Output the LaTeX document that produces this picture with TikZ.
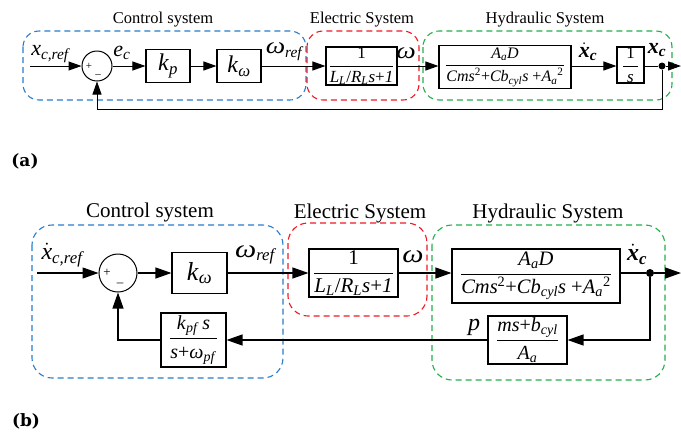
\documentclass[tikz,border=0pt]{standalone}
\usepackage{fontspec}
\usepackage{graphicx}
\setmainfont{Liberation Serif}
\newfontfamily\tagfont{DejaVu Serif}
\usetikzlibrary{arrows.meta,calc}
\definecolor{cblue}{RGB}{40,125,205}
\definecolor{cred}{RGB}{240,25,35}
\definecolor{cgreen}{RGB}{35,175,75}
\newcommand\ii[1]{\textit{#1}}
\newcommand\sub[1]{\textsubscript{\textit{#1}}}
\newcommand\xdot{$\dot{\mbox{\ii{x}}}$}
\newcommand\wide[1]{\scalebox{1.25}[1.05]{#1}}
\newcommand\fr[2]{$\displaystyle\frac{\mbox{#1}}{\mbox{#2}}$}
\newcommand\fs[1]{\fontsize{#1}{#1}\selectfont}
\tikzset{
  blk/.style={draw, line width=1.1pt, inner sep=0pt, fill=white},
  sumc/.style={draw, circle, line width=1pt, inner sep=0pt},
  arrA/.style={line width=1pt, -{Triangle[length=13pt,width=9pt]}},
  arrB/.style={line width=1.2pt, -{Triangle[length=16pt,width=11pt]}},
  ln/.style={line width=1pt},
  grp/.style={dash pattern=on 6pt off 4pt, line width=1.1pt, rounded corners=16pt},
  ttlA/.style={font=\fs{16.5}},
  ttlB/.style={font=\fs{21}},
  lbl/.style={font=\fs{22}\itshape},
  blbl/.style={font=\fs{22}\bfseries\itshape},
  dotn/.style={circle, fill, inner sep=0pt, minimum size=7pt},
  sgn/.style={font=\fs{11}, inner sep=0pt},
  tag/.style={font=\tagfont\fs{17}\bfseries}
}
\begin{document}
\begin{tikzpicture}[x=1pt,y=-1pt]
\useasboundingbox (0,0) rectangle (681,432);
% ===== panel (a) =====
\draw[grp, cblue] (23,31) rectangle (306,100);
\draw[grp, cred] (307,31) rectangle (419,100);
\draw[grp, cgreen] (423,31) rectangle (672,100);
\node[ttlA] (tA1) at (163,20) {Control system};
\node[ttlA] (tA2) at (362,20) {Electric System};
\node[ttlA] (tA3) at (545,20) {Hydraulic System};
\node[sumc, minimum size=30pt] (sA) at (97,66) {};
\node[sgn] (pA) at (89,66) {+};
\node[sgn] (mA) at (98,76) {\textendash};
\node[blk, minimum width=44pt, minimum height=33pt, font=\fs{24}] (kp) at (168,66) {\ii{k}\sub{p}};
\node[blk, minimum width=44pt, minimum height=33pt, font=\fs{24}] (kw) at (239,66) {\ii{k}\textsubscript{\ii{ω}}};
\node[blk, minimum width=71pt, minimum height=38pt, font=\fs{17}] (elA) at (361.5,66) {\fr{1}{\ii{L}\sub{L}/\ii{R}\sub{L}\ii{s}+\ii{1}}};
\node[blk, minimum width=132pt, minimum height=43pt, font=\fs{16}] (hyA) at (505,67) {\fr{\ii{A}\sub{a}\ii{D}}{\ii{Cms}\textsuperscript{2}+\ii{Cb}\sub{cyl}\ii{s} +\ii{A}\sub{a}\textsuperscript{2}}};
\node[blk, minimum width=27pt, minimum height=36pt, font=\fs{17}] (intA) at (630.5,65) {\fr{1}{\hspace{4pt}\ii{s}\hspace{4pt}}};
\node[dotn] (dA) at (662,66) {};
\coordinate (inA) at (30,66);
\coordinate (outA) at (681,66);
\coordinate (fbA) at (662,109);
\draw[arrA] (inA) -- (sA.west);
\draw[arrA] (sA.east) -- (kp.west);
\draw[arrA] (kp.east) -- (kw.west);
\draw[arrA] (kw.east) -- (elA.west);
\draw[arrA] (elA.east) -- (elA.east -| hyA.west);
\draw[arrA] (hyA.east |- dA) -- (hyA.east |- dA -| intA.west);
\draw[ln] (intA.east |- dA) -- (dA);
\draw[arrA] (dA) -- (outA);
\draw[arrA] (dA) -- (fbA) -| (sA.south);
\node[lbl] (lxr) at (50,54) {x\sub{c,ref}};
\node[lbl] (lec) at (122,53) {e\sub{c}};
\node[lbl] (lwr) at (284,52) {\wide{ω}\sub{ref}};
\node[lbl] (lwA) at (406,53) {\wide{ω}};
\node[blbl] (lxdA) at (588,52) {\xdot\textsubscript{\ii{c}}};
\node[blbl] (lxcA) at (657,50) {x\textsubscript{\ii{c}}};
\node[tag] (tagA) at (25,161) {(a)};
% ===== panel (b) =====
\draw[grp, cblue, rounded corners=20pt] (32,225) rectangle (283,378);
\draw[grp, cred, rounded corners=20pt] (288,223) rectangle (427,316);
\draw[grp, cgreen, rounded corners=20pt] (432,225) rectangle (665,380);
\node[ttlB] (tB1) at (150,212) {Control system};
\node[ttlB] (tB2) at (360,213) {Electric System};
\node[ttlB] (tB3) at (548,213) {Hydraulic System};
\node[sumc, minimum size=38pt] (sB) at (118,273) {};
\node[sgn, font=\fs{13}] (pB) at (107,273) {+};
\node[sgn, font=\fs{13}] (mB) at (120,285) {\textendash};
\node[blk, minimum width=55pt, minimum height=41pt, font=\fs{26}] (kwB) at (199.5,273) {\ii{k}\textsubscript{\ii{ω}}};
\node[blk, minimum width=89pt, minimum height=48pt, font=\fs{21}] (elB) at (353.5,273) {\fr{1}{\ii{L}\sub{L}/\ii{R}\sub{L}\ii{s}+\ii{1}}};
\node[blk, minimum width=168pt, minimum height=54pt, font=\fs{20.5}] (hyB) at (536,276) {\fr{\ii{A}\sub{a}\ii{D}}{\ii{Cms}\textsuperscript{2}+\ii{Cb}\sub{cyl}\ii{s} +\ii{A}\sub{a}\textsuperscript{2}}};
\node[blk, minimum width=65pt, minimum height=54pt, font=\fs{20}] (kpf) at (193.5,340) {\fr{\ii{k}\sub{pf}\,\ii{s}}{\ii{s}+\ii{ω}\sub{pf}}};
\node[blk, minimum width=79pt, minimum height=48pt, font=\fs{20}] (pbx) at (527.5,340) {\fr{\ii{ms}+\ii{b}\sub{cyl}}{\ii{A}\sub{a}}};
\node[dotn, minimum size=8pt] (dB) at (650,273) {};
\coordinate (inB) at (37,273);
\coordinate (outB) at (681,273);
\draw[arrB] (inB) -- (sB.west);
\draw[arrB] (sB.east) -- (kwB.west);
\draw[arrB] (kwB.east) -- (elB.west);
\draw[arrB] (elB.east) -- (elB.east -| hyB.west);
\draw[ln, line width=1.2pt] (hyB.east |- dB) -- (dB);
\draw[arrB] (dB) -- (outB);
\draw[arrB] (dB) |- (pbx.east);
\draw[arrB] (pbx.west) -- (kpf.east);
\draw[arrB] (kpf.west) -| (sB.south);
\node[lbl, font=\fs{24}\itshape] (lxrB) at (62,255) {\xdot\sub{c,ref}};
\node[lbl, font=\fs{24}\itshape] (lwrB) at (255,255) {\wide{ω}\sub{ref}};
\node[lbl, font=\fs{24}\itshape] (lwB) at (413,257) {\wide{ω}};
\node[blbl, font=\fs{24}\bfseries\itshape] (lxdB) at (637,254) {\xdot\textsubscript{\ii{c}}};
\node[lbl, font=\fs{24}\itshape] (lp) at (474,327) {p};
\node[tag] (tagB) at (26,421) {(b)};
\end{tikzpicture}
\end{document}
